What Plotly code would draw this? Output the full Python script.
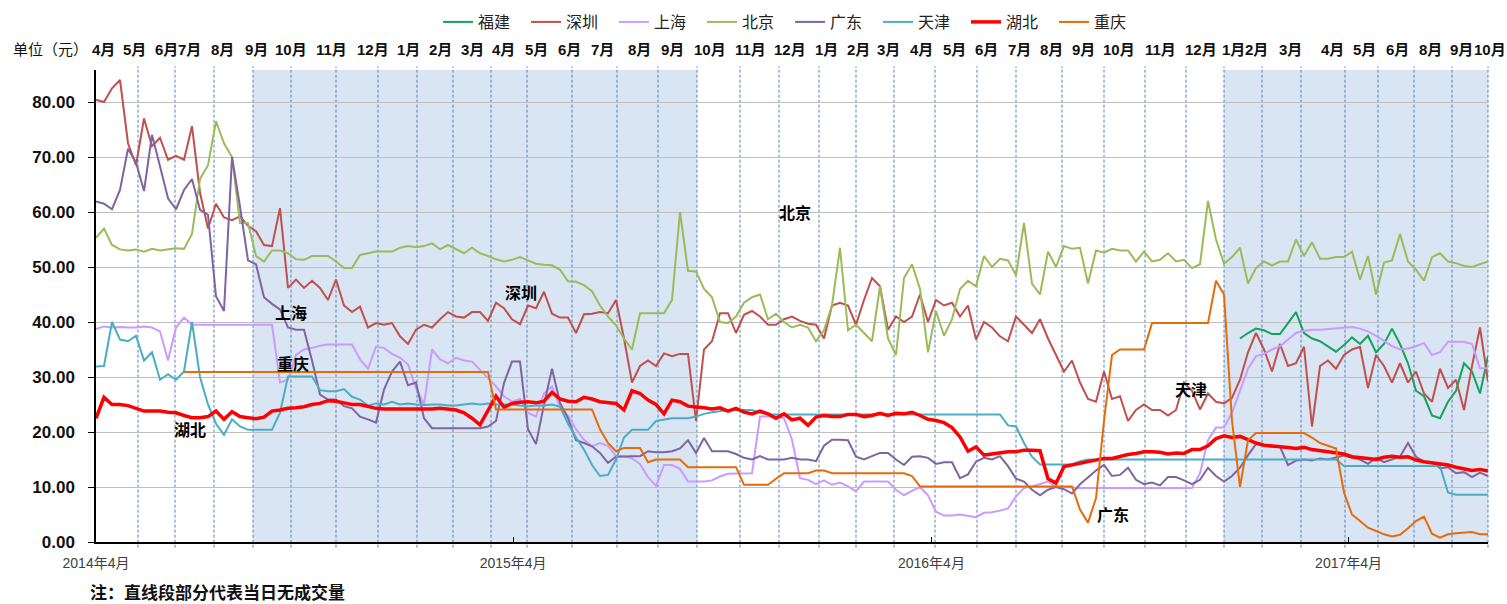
import pandas as pd
import plotly.graph_objects as go

# ---------------- data (weekly readings, 2014-04-01 .. 2017-08-01) ----------------
START = "2014-04-01"
N_WEEKS = 175
DATES = pd.date_range(START, periods=N_WEEKS, freq="7D")

BEIJING = [
    55.3, 57.0, 54.0, 53.2, 53.0, 53.2, 52.8, 53.3, 53.0, 53.2,
    53.4, 53.3, 56.0, 66.0, 68.5, 76.5, 72.5, 70.0, 58.0, 58.0,
    52.0, 51.0, 53.0, 53.0, 52.5, 51.4, 51.3, 52.0, 52.0, 52.0,
    51.0, 49.8, 49.8, 52.2, 52.5, 52.8, 52.8, 52.8, 53.5, 53.8,
    53.6, 53.8, 54.3, 53.2, 54.0, 53.2, 52.5, 53.5, 52.5, 52.0,
    51.4, 51.0, 51.3, 51.8, 51.2, 50.6, 50.4, 50.3, 49.5, 47.4,
    47.3, 46.7, 45.6, 43.0, 41.0, 39.4, 37.0, 35.0, 41.6, 41.6,
    41.6, 41.6, 44.0, 60.0, 49.3, 49.2, 46.0, 44.5, 40.0, 39.8,
    41.0, 43.5, 44.5, 45.0, 40.5, 41.5, 40.0, 39.0, 39.5, 39.0,
    36.5, 38.5, 43.0, 53.5, 38.5, 39.5, 38.0, 36.5, 46.5, 37.0,
    34.0, 48.0, 50.5, 46.0, 34.5, 42.0, 37.5, 40.5, 46.0, 47.5,
    46.5, 52.0, 50.0, 51.5, 51.2, 48.5, 58.0, 47.0, 45.0, 52.8,
    50.0, 53.8, 53.3, 53.5, 47.0, 53.0, 52.6, 53.3, 53.0, 53.0,
    51.0, 52.8, 51.0, 51.3, 52.5, 51.0, 51.3, 49.8, 50.5, 62.0,
    55.0, 50.6, 51.8, 53.5, 47.0, 49.8, 51.0, 50.3, 51.0, 51.0,
    55.0, 52.0, 54.5, 51.5, 51.5, 51.8, 51.8, 52.8, 47.7, 52.0,
    45.0, 50.8, 51.2, 56.0, 51.0, 49.5, 47.5, 51.8, 52.5, 51.0,
    50.7, 50.2, 50.0, 50.5, 51.0,
]

SHENZHEN = [
    80.4, 80.0, 82.5, 84.0, 72.5, 68.5, 77.0, 72.0, 73.5, 69.5,
    70.2, 69.5, 75.6, 63.5, 57.0, 61.5, 59.0, 58.5, 59.2, 57.5,
    56.5, 54.0, 53.8, 60.7, 46.2, 47.7, 46.2, 47.5, 46.2, 44.0,
    47.7, 43.0, 41.8, 42.8, 39.0, 39.8, 39.5, 39.8, 37.4, 36.0,
    38.6, 39.5, 39.0, 40.5, 41.8, 41.0, 40.8, 41.8, 41.8, 40.2,
    43.5, 42.5, 40.5, 39.6, 43.0, 42.5, 45.5, 41.5, 40.8, 40.8,
    38.0, 41.4, 41.5, 41.8, 41.6, 44.0, 37.0, 29.0, 32.0, 33.0,
    32.0, 34.3, 33.8, 34.2, 34.2, 22.0, 35.0, 36.5, 41.6, 41.6,
    38.0, 41.3, 42.0, 41.0, 39.5, 39.5, 40.5, 41.0, 40.2, 39.7,
    39.5, 37.0, 43.0, 43.5, 43.0, 39.5, 44.0, 48.0, 46.5, 38.6,
    41.0, 40.0, 41.0, 45.0, 40.0, 44.0, 43.0, 43.5, 41.0, 43.0,
    36.8, 40.0, 39.0, 37.4, 36.5, 41.0, 39.5, 38.0, 40.5, 37.0,
    34.0, 31.0, 33.0, 29.0, 26.0, 25.5, 31.0, 26.0, 26.5, 22.0,
    24.0, 25.0, 24.0, 24.0, 23.0, 24.0, 29.0, 27.5, 24.1, 27.0,
    25.5, 25.2, 26.2, 29.5, 34.5, 38.0, 35.0, 31.0, 36.0, 32.0,
    32.5, 35.5, 21.0, 32.0, 33.0, 31.5, 34.0, 35.0, 35.5, 28.0,
    34.0, 32.0, 29.0, 32.5, 29.0, 31.0, 27.0, 25.5, 31.5, 28.0,
    29.5, 24.0, 32.0, 39.0, 29.2,
]

SHANGHAI = [
    38.7, 39.2, 39.0, 39.1, 39.0, 39.0, 39.2, 39.0, 38.3, 33.0,
    39.0, 40.8, 39.5, 39.5, 39.5, 39.5, 39.5, 39.5, 39.5, 39.5,
    39.5, 39.5, 39.5, 29.0, 29.5, 34.0, 35.0, 35.3, 35.7, 35.9,
    35.9, 35.9, 35.9, 33.2, 31.5, 35.5, 35.3, 34.2, 33.5, 32.3,
    28.0, 25.0, 35.0, 33.2, 32.5, 33.5, 33.0, 32.8, 31.3, 29.8,
    28.3, 26.5, 25.5, 26.0, 23.5, 22.8, 27.0, 28.3, 24.5, 23.0,
    20.5, 18.6, 17.4, 18.0, 17.5, 15.6, 15.6, 15.2, 14.2, 11.8,
    10.2, 14.0, 14.0, 13.3, 11.0, 11.0, 11.0, 11.2, 11.9, 12.4,
    12.4, 12.4, 12.5, 22.8, 22.8, 22.8, 22.5, 18.6, 11.6, 11.3,
    10.5, 11.2, 10.4, 10.8, 10.1, 9.2, 11.0, 11.0, 11.0, 11.0,
    9.5, 8.5, 9.3, 10.0, 8.5, 5.5, 4.8, 4.8, 5.0, 4.8,
    4.5, 5.3, 5.4, 5.7, 6.1, 8.3, 9.8, 10.1, 10.5, 11.0,
    10.1, 10.0, 9.8, 9.8, 9.8, 9.8, 9.8, 9.8, 9.8, 9.8,
    9.8, 9.8, 9.8, 9.8, 9.8, 9.8, 9.8, 9.8, 12.5, 18.5,
    20.8, 20.8, 23.5, 27.5, 31.5, 33.8, 34.2, 35.0, 35.6, 36.8,
    38.0, 38.4, 38.6, 38.6, 38.7, 38.8, 38.9, 39.1, 38.8, 38.3,
    37.5, 36.6, 35.6, 35.0, 35.2, 35.6, 36.2, 34.0, 34.5, 36.4,
    36.4, 36.4, 36.0, 31.6, 31.6,
]

GUANGDONG = [
    61.9, 61.5, 60.5, 64.0, 71.5, 69.0, 63.8, 74.0, 68.3, 62.5,
    60.5, 64.0, 66.0, 60.4, 59.5, 44.7, 42.0, 70.0, 61.0, 51.2,
    50.5, 44.5, 43.3, 42.3, 39.0, 38.6, 38.6, 33.0, 26.8, 25.9,
    25.9, 24.7, 24.3, 22.8, 22.3, 21.7, 27.7, 31.0, 32.8, 28.5,
    29.0, 22.5, 20.7, 20.7, 20.7, 20.7, 20.7, 20.7, 20.7, 21.0,
    22.0, 28.9, 32.8, 32.8, 20.5, 17.8, 25.0, 31.5, 25.3, 22.5,
    18.5, 18.0, 17.4, 16.2, 14.4, 15.5, 15.6, 15.6, 15.6, 16.5,
    16.3, 16.3, 16.5, 17.0, 18.5, 16.2, 18.9, 16.5, 16.5, 16.5,
    16.0, 15.3, 15.0, 15.6, 15.0, 15.0, 15.0, 15.3, 15.0, 15.0,
    14.7, 17.5, 18.6, 18.6, 18.5, 15.5, 15.0, 15.6, 16.2, 16.2,
    15.0, 14.0, 15.5, 15.6, 15.3, 14.2, 14.5, 14.5, 11.6, 12.3,
    14.6, 15.3, 15.0, 15.6, 13.8, 11.5, 11.0, 9.5, 8.5, 9.5,
    10.0, 9.6, 8.8, 10.5, 11.8, 13.0, 14.0, 12.0, 12.2, 13.5,
    11.3, 10.5, 10.8, 10.3, 11.8, 11.8, 11.2, 10.5, 11.3, 13.5,
    12.0, 11.0, 12.0, 13.5, 15.8, 17.8, 17.6, 17.3, 17.3, 14.0,
    14.8, 15.0, 14.8, 15.2, 15.0, 15.4, 15.7, 15.3, 15.0, 14.2,
    15.3, 14.5, 15.0, 15.5, 18.0, 15.5, 14.6, 14.5, 13.4, 13.6,
    12.5, 12.7, 11.8, 12.6, 12.0,
]

TIANJIN = [
    31.9, 32.0, 40.0, 36.8, 36.5, 37.5, 33.0, 34.5, 29.5, 30.5,
    29.5, 31.0, 40.0, 30.0, 25.0, 21.5, 19.5, 22.3, 21.0, 20.4,
    20.4, 20.4, 20.4, 23.5, 30.1, 30.1, 30.1, 30.1, 27.6, 27.4,
    27.4, 27.8, 26.4, 25.9, 24.8, 25.2, 25.0, 25.5, 25.0, 25.2,
    25.0, 24.9, 25.0, 25.0, 24.8, 24.8, 25.0, 25.2, 25.0, 25.2,
    25.0, 25.0, 25.0, 24.8, 24.7, 24.8, 24.8, 25.0, 24.6, 21.5,
    19.0, 16.8, 14.0, 12.0, 12.2, 15.0, 19.0, 20.4, 20.4, 20.4,
    22.0, 22.3, 22.5, 22.5, 22.5, 22.8, 23.3, 23.6, 23.8, 24.0,
    24.0, 24.0, 24.0, 23.5, 23.2, 23.2, 23.2, 23.2, 23.2, 23.2,
    23.2, 23.2, 23.2, 23.2, 23.2, 23.2, 23.2, 23.2, 23.2, 23.2,
    23.2, 23.2, 23.2, 23.2, 23.2, 23.2, 23.2, 23.2, 23.2, 23.2,
    23.2, 23.2, 23.2, 23.2, 21.2, 21.0, 18.0, 15.5, 14.1, 14.1,
    14.1, 14.1, 14.1, 14.7, 15.0, 15.0, 15.0, 15.0, 15.0, 15.0,
    15.0, 15.0, 15.0, 15.0, 15.0, 15.0, 15.0, 15.0, 15.0, 15.0,
    15.0, 15.0, 15.0, 15.0, 15.0, 15.0, 15.0, 15.0, 15.0, 15.0,
    15.0, 15.0, 15.0, 15.0, 15.0, 15.0, 13.8, 13.8, 13.8, 13.8,
    13.8, 13.8, 13.8, 13.8, 13.8, 13.8, 13.8, 13.8, 13.8, 9.0,
    8.6, 8.6, 8.6, 8.6, 8.6,
]

HUBEI = [
    22.5, 26.3, 25.0, 25.0, 24.8, 24.3, 23.8, 23.8, 23.8, 23.6,
    23.5, 23.0, 22.6, 22.6, 22.8, 23.8, 22.3, 23.7, 22.8, 22.6,
    22.4, 22.7, 23.8, 24.0, 24.3, 24.4, 24.6, 25.0, 25.2, 25.7,
    25.6, 25.3, 25.0, 25.0, 24.6, 24.3, 24.2, 24.2, 24.2, 24.2,
    24.1, 24.2, 24.2, 24.3, 24.1, 24.0, 23.5, 22.5, 21.3, 23.8,
    26.5, 24.5, 25.2, 25.4, 25.5, 25.3, 25.6, 27.2, 26.0, 25.6,
    25.5, 26.3, 26.0, 25.5, 25.3, 25.2, 24.0, 27.5, 27.0, 25.8,
    25.0, 23.3, 25.8, 25.5, 24.7, 24.6, 24.4, 24.2, 24.4, 23.8,
    24.3, 23.6, 23.3, 23.8, 23.3, 22.5, 23.3, 22.2, 22.5, 21.2,
    22.7, 23.0, 22.8, 22.8, 23.2, 23.2, 22.8, 23.0, 23.4, 23.0,
    23.4, 23.3, 23.6, 23.0, 22.3, 22.1, 21.7, 20.8, 19.1, 16.5,
    17.3, 15.8, 16.0, 16.1, 16.4, 16.4, 16.7, 16.7, 16.6, 11.5,
    10.7, 13.7, 14.0, 14.3, 14.6, 14.9, 15.2, 15.2, 15.6, 15.9,
    16.1, 16.4, 16.4, 16.3, 16.0, 16.2, 16.1, 16.8, 16.8, 17.5,
    18.8, 19.3, 19.0, 19.2, 18.6, 18.0, 17.6, 17.5, 17.3, 17.2,
    17.0, 17.2, 16.8, 16.6, 16.4, 16.2, 16.0, 15.5, 15.4, 15.2,
    15.0, 15.4, 15.6, 15.4, 15.5, 14.9, 14.6, 14.4, 14.3, 14.0,
    13.6, 13.3, 13.0, 13.2, 12.9,
]

CHONGQING = [None] * 11 + [
    30.9, 30.9, 30.9, 30.9, 30.9, 30.9, 30.9, 30.9, 30.9,
    30.9, 30.9, 30.9, 30.9, 30.9, 30.9, 30.9, 30.9, 30.9, 30.9,
    30.9, 30.9, 30.9, 30.9, 30.9, 30.9, 30.9, 30.9, 30.9, 30.9,
    30.9, 30.9, 30.9, 30.9, 30.9, 30.9, 30.9, 30.9, 30.9, 30.9,
    24.1, 24.1, 24.1, 24.1, 24.1, 24.1, 24.1, 24.1, 24.1, 24.1,
    24.1, 24.1, 24.1, 20.5, 18.0, 16.5, 17.1, 17.1, 17.1, 14.5,
    15.0, 15.0, 15.0, 15.0, 13.6, 13.6, 13.6, 13.6, 13.6, 13.6,
    13.6, 10.4, 10.4, 10.4, 10.4, 11.5, 12.5, 12.5, 12.5, 12.5,
    13.0, 13.0, 12.5, 12.5, 12.5, 12.5, 12.5, 12.5, 12.5, 12.5,
    12.5, 12.5, 12.0, 10.1, 10.1, 10.1, 10.1, 10.1, 10.1, 10.1,
    10.1, 10.1, 10.1, 10.1, 10.1, 10.1, 10.1, 10.1, 10.1, 10.1,
    10.1, 10.1, 10.1, 5.9, 3.5, 8.0, 22.0, 34.0, 35.0, 35.0,
    35.0, 35.0, 39.8, 39.8, 39.8, 39.8, 39.8, 39.8, 39.8, 39.8,
    47.5, 45.0, 22.0, 10.0, 18.5, 19.8, 19.8, 19.8, 19.8, 19.8,
    19.8, 19.8, 19.0, 18.0, 17.5, 17.0, 9.0, 5.0, 3.8, 2.6,
    2.0, 1.4, 1.0, 1.3, 2.5, 3.8, 4.6, 1.5, 0.8, 1.4,
    1.6, 1.7, 1.8, 1.4, 1.4,
]

FUJIAN = [None] * 143 + [
    37.0, 38.0, 38.8, 38.5, 37.8, 37.8, 39.8, 41.8, 38.0, 37.0,
    36.5, 35.5, 34.6, 35.8, 37.2, 36.0, 37.5, 34.5, 36.0, 38.8,
    36.0, 32.5, 27.5, 26.5, 23.0, 22.5, 25.5, 27.5, 32.5, 31.0,
    27.0, 33.8,
]

SERIES_NAMES = ["福建", "深圳", "上海", "北京", "广东", "天津", "湖北", "重庆"]
SERIES_VALUES = [FUJIAN, SHENZHEN, SHANGHAI, BEIJING, GUANGDONG, TIANJIN, HUBEI, CHONGQING]

X_TICK_DATES = ["2014-04-01", "2015-04-01", "2016-04-01", "2017-04-01"]
X_TICK_TEXT = ["2014年4月", "2015年4月", "2016年4月", "2017年4月"]

TOP_MONTHS = ["4月", "5月", "6月", "7月", "8月", "9月", "10月", "11月", "12月",
              "1月", "2月", "3月", "4月", "5月", "6月", "7月", "8月", "9月", "10月", "11月", "12月",
              "1月", "2月", "3月", "4月", "5月", "6月", "7月", "8月", "9月", "10月", "11月", "12月",
              "1月", "2月", "3月", "4月", "5月", "6月", "8月", "9月", "10月"]

LABELS = [("北京", "2015-12-04", 59.8), ("深圳", "2015-04-08", 45.1), ("上海", "2014-09-19", 41.5),
          ("重庆", "2014-09-20", 32.4), ("湖北", "2014-06-22", 20.2), ("天津", "2016-11-14", 27.5),
          ("广东", "2016-09-07", 4.9)]

for v in SERIES_VALUES:
    if len(v) != N_WEEKS:
        raise ValueError("length %d" % len(v))

# ---------------- styling / layout ----------------
COLORS = ["#14A35A", "#C0504D", "#C99BFF", "#9BBB59", "#8064A2", "#4BACC6", "#FF0000", "#E46C0A"]
WIDTHS = [2, 2, 2, 2, 2, 2, 3.5, 2]
FONT = "Liberation Sans, Noto Sans CJK SC, sans-serif"

W_PAGE, H_PAGE = 1507, 604
PL, PR, PT, PB = 96, 1488, 70, 542
PW, PH = PR - PL, PB - PT


def fx(px):
    return (px - PL) / PW


def fy(py):
    return (PB - py) / PH


TOP_MONTH_PX = [103, 134, 166, 189, 222, 256, 291, 331, 373,
                408, 440, 472, 504, 536, 569, 602, 639, 672, 710, 750, 790,
                826, 858, 888, 921, 954, 986, 1019, 1051, 1083, 1119, 1160, 1201,
                1233, 1256, 1290, 1332, 1364, 1397, 1430, 1461, 1490]
VLINE_PX = [138, 175, 214, 253, 291, 336, 378, 417, 453, 491, 527, 572, 617, 658, 697,
            740, 779, 819, 856, 894, 935, 977, 1016, 1062, 1104, 1145, 1186, 1224,
            1262, 1301, 1345, 1378, 1414, 1452, 1488]
SHADE_PX = [(253, 697), (1224, 1488)]

fig = go.Figure()
for name, vals, col, w in zip(SERIES_NAMES, SERIES_VALUES, COLORS, WIDTHS):
    fig.add_trace(go.Scatter(x=DATES, y=vals, name=name, mode="lines",
                             line=dict(color=col, width=w), connectgaps=False,
                             hoverinfo="skip"))

shapes = []
for a, b in SHADE_PX:
    shapes.append(dict(type="rect", xref="paper", yref="paper", x0=fx(a), x1=fx(b), y0=0, y1=1,
                       fillcolor="#DAE5F3", line=dict(width=0), layer="below"))
for p in VLINE_PX:
    shapes.append(dict(type="line", xref="paper", yref="paper", x0=fx(p), x1=fx(p), y0=-0.012, y1=1.008,
                       line=dict(color="#4F81BD", width=1, dash="3px,2px"), layer="below"))

annotations = []
for t, p in zip(TOP_MONTHS, TOP_MONTH_PX):
    annotations.append(dict(text="<b>%s</b>" % t, xref="paper", yref="paper", x=fx(p), y=fy(49),
                            xanchor="center", yanchor="middle", showarrow=False,
                            font=dict(size=15, family=FONT, color="#111111")))
annotations.append(dict(text="单位（元）", xref="paper", yref="paper", x=fx(50), y=fy(49),
                        xanchor="center", yanchor="middle", showarrow=False,
                        font=dict(size=15, family=FONT, color="#111111")))
annotations.append(dict(text="<b>注：直线段部分代表当日无成交量</b>", xref="paper", yref="paper",
                        x=fx(88), y=fy(593), xanchor="left", yanchor="middle", showarrow=False,
                        font=dict(size=17, family=FONT, color="#111111")))
for t, d, v in LABELS:
    annotations.append(dict(text="<b>%s</b>" % t, x=d, y=v, xref="x", yref="y",
                            xanchor="center", yanchor="middle", showarrow=False,
                            font=dict(size=16, family=FONT, color="#000000")))

fig.update_layout(
    width=W_PAGE, height=H_PAGE,
    margin=dict(l=PL, r=W_PAGE - PR, t=PT, b=H_PAGE - PB, pad=0, autoexpand=False),
    plot_bgcolor="white", paper_bgcolor="white",
    showlegend=True,
    legend=dict(orientation="h", x=fx(438), y=fy(22), xanchor="left", yanchor="middle",
                font=dict(size=16, family=FONT, color="#222222"),
                entrywidth=43, entrywidthmode="pixels", itemwidth=30,
                bgcolor="rgba(0,0,0,0)", borderwidth=0),
    shapes=shapes, annotations=annotations,
)
fig.update_xaxes(type="date", range=[X_TICK_DATES[0], "2017-08-01"],
                 tickvals=X_TICK_DATES, ticktext=X_TICK_TEXT,
                 ticks="inside", ticklen=5, tickcolor="#000000", ticklabelstandoff=7,
                 showline=True, linecolor="#000000", linewidth=1.5, showgrid=False, zeroline=False,
                 tickfont=dict(size=14, family=FONT, color="#404040"))
fig.update_yaxes(range=[0, PH / 5.5], tick0=0, dtick=10, tickformat=".2f",
                 showgrid=True, gridcolor="#BFBFBF", gridwidth=1,
                 showline=True, linecolor="#000000", linewidth=1.5, zeroline=False,
                 ticks="outside", ticklen=6, tickcolor="#000000", ticklabelstandoff=10,
                 tickfont=dict(size=17, family=FONT, color="#111111", weight="bold"))

fig.write_html("out.html", config={"displayModeBar": False},
               post_script="document.body.style.margin='0';document.body.style.overflow='hidden';")
